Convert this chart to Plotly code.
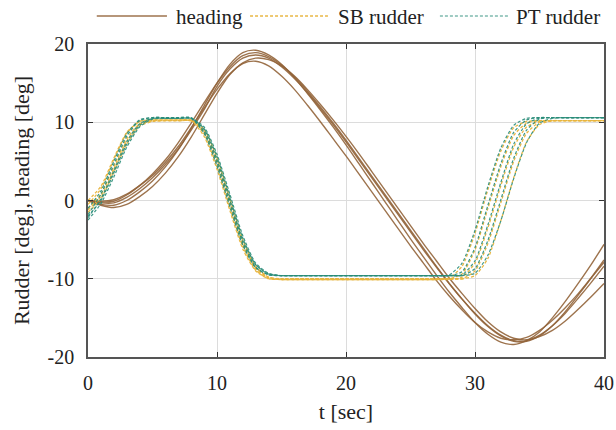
import plotly.graph_objects as go

t = list(range(0, 41))

heading_runs = [
    [0.0, -0.5, -0.6, 0.0, 1.1, 2.5, 4.3, 6.5, 9.2, 12.1, 15.0, 17.4, 18.9, 19.2, 18.6, 17.4, 15.7, 13.7, 11.6, 9.4,
     7.1, 4.7, 2.3, -0.1, -2.5, -4.9, -7.2, -9.5, -11.7, -13.7, -15.6, -17.1, -18.1, -18.4, -17.9, -16.8, -15.0, -12.9, -10.6, -8.2, -5.6],
    [0.0, -0.2, -0.1, 0.7, 1.9, 3.4, 5.2, 7.4, 9.9, 12.5, 15.0, 17.1, 18.5, 18.9, 18.4, 17.3, 15.8, 14.0, 12.0, 9.9,
     7.7, 5.4, 3.1, 0.8, -1.5, -3.8, -6.1, -8.4, -10.6, -12.6, -14.5, -16.1, -17.3, -18.0, -18.0, -17.3, -16.0, -14.2, -12.1, -9.9, -7.6],
    [0.0, -0.3, -0.3, 0.4, 1.5, 2.9, 4.6, 6.6, 9.0, 11.6, 14.6, 16.8, 18.2, 18.6, 18.2, 17.1, 15.6, 13.8, 11.8, 9.7,
     7.5, 5.2, 2.9, 0.6, -1.7, -4.0, -6.3, -8.5, -10.6, -12.6, -14.4, -16.0, -17.2, -17.9, -17.9, -17.2, -16.0, -14.4, -12.5, -10.5, -8.4],
    [0.0, -0.6, -0.9, -0.5, 0.5, 1.8, 3.5, 5.6, 8.1, 10.9, 13.7, 16.1, 17.6, 18.2, 18.0, 17.2, 15.9, 14.2, 12.3, 10.3,
     8.2, 6.0, 3.7, 1.4, -0.9, -3.2, -5.5, -7.7, -9.9, -11.9, -13.8, -15.5, -16.8, -17.6, -17.8, -17.4, -16.6, -15.4, -13.9, -12.3, -10.6],
    [0.0, -0.1, 0.1, 0.8, 1.9, 3.2, 4.9, 6.9, 9.3, 11.8, 14.2, 16.2, 17.5, 17.8, 17.2, 15.9, 14.2, 12.2, 10.1, 7.9,
     5.7, 3.4, 1.1, -1.2, -3.5, -5.8, -8.0, -10.2, -12.2, -14.0, -15.6, -16.8, -17.6, -17.8, -17.5, -16.6, -15.3, -13.7, -11.9, -9.9, -7.9],
]

sb_runs = [
    [-0.5, 1.5, 5.2, 8.6, 10.1, 10.3, 10.3, 10.3, 10.2, 8.2, 4.0, -1.3, -6.2, -9.0, -10.0, -10.1, -10.1, -10.1, -10.1, -10.1,
     -10.1, -10.1, -10.1, -10.1, -10.1, -10.1, -10.1, -10.1, -9.9, -8.4, -4.2, 1.4, 6.3, 9.3, 10.1, 10.2, 10.2, 10.2, 10.2, 10.2, 10.2],
    [-1.0, 0.8, 4.3, 7.9, 9.8, 10.2, 10.2, 10.2, 10.2, 8.8, 4.9, -0.4, -5.6, -8.7, -9.9, -10.1, -10.1, -10.1, -10.1, -10.1,
     -10.1, -10.1, -10.1, -10.1, -10.1, -10.1, -10.1, -10.1, -10.0, -9.4, -6.3, -1.0, 4.3, 8.3, 9.9, 10.2, 10.2, 10.2, 10.2, 10.2, 10.2],
    [-1.5, 0.2, 3.6, 7.2, 9.5, 10.1, 10.2, 10.2, 10.2, 9.1, 5.5, 0.3, -5.0, -8.4, -9.8, -10.1, -10.1, -10.1, -10.1, -10.1,
     -10.1, -10.1, -10.1, -10.1, -10.1, -10.1, -10.1, -10.1, -10.1, -9.8, -8.0, -3.5, 1.9, 6.8, 9.4, 10.1, 10.2, 10.2, 10.2, 10.2, 10.2],
    [0.0, 1.8, 5.4, 8.7, 10.1, 10.3, 10.3, 10.3, 10.3, 8.5, 4.4, -0.9, -5.9, -8.9, -10.0, -10.0, -10.0, -10.0, -10.0, -10.0,
     -10.0, -10.0, -10.0, -10.0, -10.0, -10.0, -10.0, -10.0, -10.0, -10.0, -9.0, -5.5, -0.3, 5.0, 8.6, 10.0, 10.2, 10.2, 10.2, 10.2, 10.2],
    [-1.2, 0.5, 4.0, 7.6, 9.7, 10.2, 10.2, 10.2, 10.2, 8.9, 5.2, 0.0, -5.3, -8.6, -9.8, -10.0, -10.0, -10.0, -10.0, -10.0,
     -10.0, -10.0, -10.0, -10.0, -10.0, -10.0, -10.0, -10.0, -10.0, -10.0, -9.6, -7.4, -2.6, 2.9, 7.5, 9.7, 10.2, 10.2, 10.2, 10.2, 10.2],
]

pt_runs = [
    [-1.8, 0.8, 4.6, 8.2, 10.2, 10.6, 10.6, 10.6, 10.5, 8.6, 4.4, -0.8, -5.7, -8.6, -9.5, -9.6, -9.6, -9.6, -9.6, -9.6,
     -9.6, -9.6, -9.6, -9.6, -9.6, -9.6, -9.6, -9.6, -9.5, -8.0, -3.8, 1.8, 6.7, 9.6, 10.5, 10.6, 10.6, 10.6, 10.6, 10.6, 10.6],
    [-2.2, 0.2, 3.8, 7.5, 9.8, 10.5, 10.5, 10.5, 10.5, 9.1, 5.2, 0.0, -5.1, -8.2, -9.4, -9.6, -9.6, -9.6, -9.6, -9.6,
     -9.6, -9.6, -9.6, -9.6, -9.6, -9.6, -9.6, -9.6, -9.6, -9.1, -6.0, -0.6, 4.7, 8.7, 10.3, 10.6, 10.6, 10.6, 10.6, 10.6, 10.6],
    [-2.5, -0.4, 3.0, 6.8, 9.4, 10.4, 10.5, 10.5, 10.5, 9.4, 5.9, 0.8, -4.5, -8.0, -9.3, -9.6, -9.6, -9.6, -9.6, -9.6,
     -9.6, -9.6, -9.6, -9.6, -9.6, -9.6, -9.6, -9.6, -9.6, -9.5, -7.7, -3.1, 2.3, 7.2, 9.8, 10.5, 10.6, 10.6, 10.6, 10.6, 10.6],
    [-1.0, 1.2, 5.0, 8.5, 10.3, 10.6, 10.6, 10.6, 10.6, 8.8, 4.8, -0.4, -5.4, -8.5, -9.5, -9.6, -9.6, -9.6, -9.6, -9.6,
     -9.6, -9.6, -9.6, -9.6, -9.6, -9.6, -9.6, -9.6, -9.6, -9.6, -8.7, -5.1, 0.1, 5.4, 9.0, 10.4, 10.6, 10.6, 10.6, 10.6, 10.6],
    [-2.0, 0.0, 3.5, 7.2, 9.6, 10.5, 10.5, 10.5, 10.5, 9.2, 5.6, 0.4, -4.8, -8.2, -9.4, -9.6, -9.6, -9.6, -9.6, -9.6,
     -9.6, -9.6, -9.6, -9.6, -9.6, -9.6, -9.6, -9.6, -9.6, -9.6, -9.3, -7.0, -2.6, 2.8, 7.4, 9.9, 10.5, 10.6, 10.6, 10.6, 10.6],
]

x_ticks = [0, 10, 20, 30, 40]
y_ticks = [-20, -10, 0, 10, 20]
legend_labels = ["heading", "SB rudder", "PT rudder"]

HEAD_C = "rgba(146,100,58,0.9)"
SB_C = "rgba(232,180,60,0.95)"
PT_C = "rgba(40,140,120,0.9)"
FONT = "Liberation Serif"

fig = go.Figure()
for r in heading_runs:
    fig.add_trace(go.Scatter(x=t, y=r, mode="lines", name="heading", showlegend=False,
                             line=dict(color=HEAD_C, width=1.4, shape="spline", smoothing=0.8)))
for r in sb_runs:
    fig.add_trace(go.Scatter(x=t, y=r, mode="lines", name="SB rudder", showlegend=False,
                             line=dict(color=SB_C, width=1.3, dash="3px,2px", shape="spline", smoothing=0.6)))
for r in pt_runs:
    fig.add_trace(go.Scatter(x=t, y=r, mode="lines", name="PT rudder", showlegend=False,
                             line=dict(color=PT_C, width=1.2, dash="3px,2px", shape="spline", smoothing=0.6)))

# manual legend (long line samples as in the reference)
leg_lines = [(0.017, 0.153, HEAD_C, "solid", 1.4), (0.314, 0.465, SB_C, "3px,2px", 1.3), (0.682, 0.814, PT_C, "3px,2px", 1.2)]
leg_text_x = [0.166, 0.481, 0.826]
for (x0, x1, c, d, w), tx, lab in zip(leg_lines, leg_text_x, legend_labels):
    fig.add_shape(type="line", xref="paper", yref="paper", x0=x0, x1=x1, y0=1.0895, y1=1.0895,
                  line=dict(color=c, dash=d, width=w))
    fig.add_annotation(xref="paper", yref="paper", x=tx, y=1.087, xanchor="left", yanchor="middle",
                       text=lab, showarrow=False, font=dict(family=FONT, size=21, color="#222222"))

axis_common = dict(showline=True, linecolor="#555555", linewidth=1.5, mirror="ticks", ticks="inside",
                   ticklen=5, tickcolor="#333333", tickwidth=1.2, showgrid=True, gridcolor="#dcdcdc", gridwidth=1,
                   zeroline=False, automargin=False, tickfont=dict(family=FONT, size=20, color="#222222"))

fig.update_layout(
    width=616, height=430,
    margin=dict(l=88, r=12, t=44, b=73),
    paper_bgcolor="white", plot_bgcolor="white",
    font=dict(family=FONT, size=20, color="#222222"),
    showlegend=False,
    xaxis=dict(range=[0, 40], tickvals=x_ticks, ticktext=[str(v) for v in x_ticks], ticklabelstandoff=7,
               title=dict(text="t [sec]", font=dict(family=FONT, size=22), standoff=11), **axis_common),
    yaxis=dict(range=[-20, 20], tickvals=y_ticks, ticktext=[str(v) for v in y_ticks], ticklabelstandoff=8,
               title=dict(text="Rudder [deg], heading [deg]", font=dict(family=FONT, size=22), standoff=12), **axis_common),
)

fig.write_html("out.html", config={"displayModeBar": False},
               post_script="document.body.style.margin='0';document.body.style.overflow='hidden';")
